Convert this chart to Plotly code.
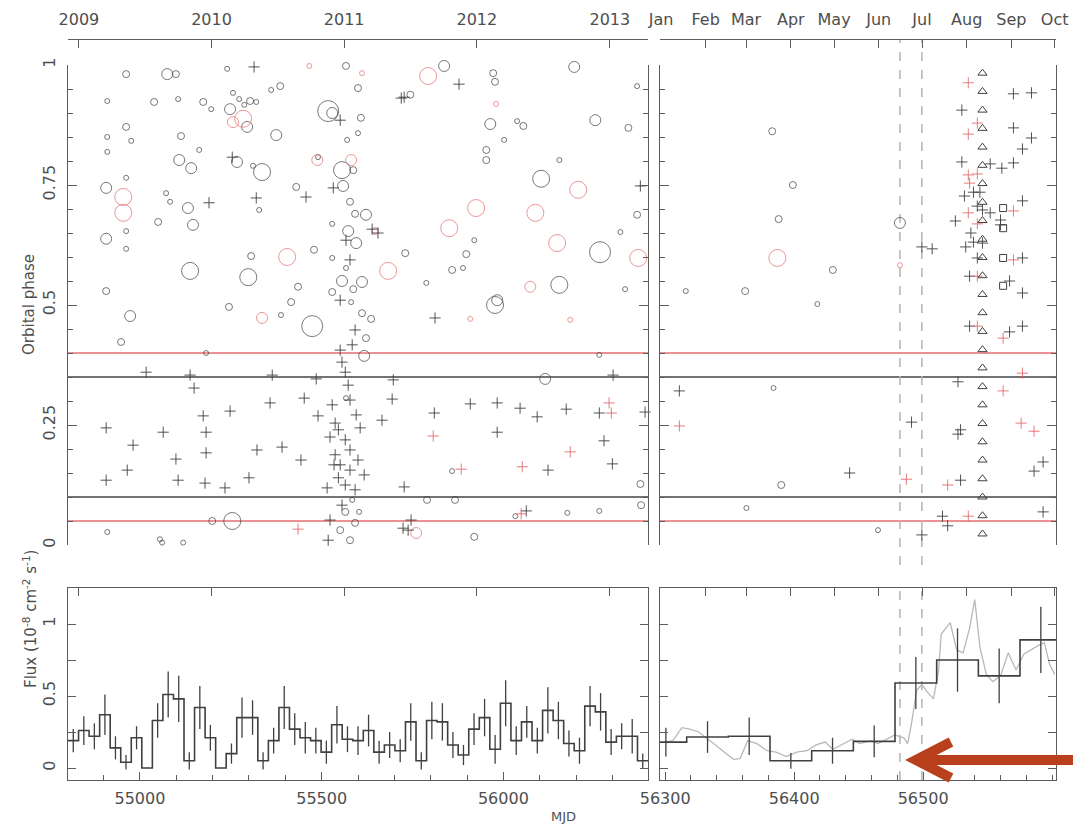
import pandas as pd
import plotly.graph_objects as go

# ---------------------------------------------------------------------------
# 2009-2012 monitoring (left panels)
# open circles: MJD, orbital phase, strength class (1 = faint ... 5 = strongest)
arch_circ_mjd = [54962, 55075, 55099, 55240, 55567, 54910, 55039, 55105, 55174, 55196,
                 55256, 55273, 55287, 55303, 55320, 55361, 55386, 55248, 55295, 55375,
                 55518, 55529, 54962, 54910, 54976, 55113, 54910, 55163, 55108, 55141,
                 55267, 55311, 55336, 55490, 55570, 55556, 55587, 54962, 54907, 55072,
                 55083, 55132, 55328, 55430, 55559, 55578, 55592, 55050, 55146, 54962,
                 54907, 54962, 55529, 55573, 55595, 55306, 55479, 55529, 55567, 55138,
                 55298, 54907, 55435, 55556, 55529, 55587, 55416, 55581, 55245, 54973,
                 55388, 55474, 55600, 55608, 55600, 55622, 55611, 55611, 55636, 55622,
                 55617, 55837, 55972, 55977, 55964, 56038, 56055, 55953, 55953, 55898,
                 55859, 55889, 55730, 55788, 55977, 55983, 56104, 56154, 56195, 56266,
                 56253, 56368, 56154, 56322, 56368, 56335, 56344, 55744, 55920, 56002,
                 56377, 56115, 56264, 55867, 55920, 55859, 54910, 55061, 55119, 55254,
                 55199, 55055, 54948, 55182, 55551, 55578, 55592, 55603, 55565, 55584,
                 56033, 56176, 56264, 56379, 55790, 55567]
arch_circ_phase = [0.981, 0.981, 0.981, 0.992, 0.998, 0.925, 0.923, 0.929, 0.923, 0.908,
                   0.942, 0.929, 0.917, 0.925, 0.923, 0.948, 0.956, 0.908, 0.871, 0.854,
                   0.904, 0.900, 0.871, 0.850, 0.842, 0.852, 0.819, 0.823, 0.802, 0.785,
                   0.798, 0.790, 0.777, 0.808, 0.844, 0.781, 0.781, 0.765, 0.744, 0.733,
                   0.715, 0.702, 0.698, 0.746, 0.748, 0.715, 0.690, 0.673, 0.667, 0.654,
                   0.638, 0.617, 0.669, 0.654, 0.629, 0.602, 0.615, 0.598, 0.577, 0.571,
                   0.558, 0.529, 0.538, 0.550, 0.527, 0.533, 0.506, 0.506, 0.496, 0.477,
                   0.479, 0.456, 0.952, 0.890, 0.858, 0.688, 0.548, 0.483, 0.471, 0.431,
                   0.394, 0.998, 0.983, 0.965, 0.877, 0.883, 0.873, 0.823, 0.802, 0.606,
                   0.573, 0.577, 0.608, 0.546, 0.500, 0.510, 0.763, 0.542, 0.996, 0.610,
                   0.885, 0.956, 0.802, 0.652, 0.688, 0.533, 0.869, 0.938, 0.635, 0.844,
                   0.127, 0.346, 0.396, 0.094, 0.017, 0.154, 0.027, 0.005, 0.005, 0.050,
                   0.050, 0.012, 0.423, 0.400, 0.031, 0.010, 0.046, 0.069, 0.069, 0.094,
                   0.060, 0.067, 0.071, 0.083, 0.094, 0.306]
arch_circ_level = [2, 3, 2, 1, 2, 1, 2, 1, 2, 1,
                   1, 1, 1, 2, 1, 1, 2, 3, 3, 3,
                   5, 3, 2, 1, 1, 2, 1, 1, 3, 3,
                   3, 1, 4, 1, 1, 4, 2, 1, 3, 1,
                   1, 3, 1, 2, 3, 2, 2, 2, 3, 1,
                   3, 1, 1, 3, 3, 2, 2, 1, 1, 4,
                   4, 2, 2, 3, 2, 2, 2, 1, 2, 3,
                   1, 5, 2, 2, 1, 3, 3, 2, 2, 2,
                   3, 3, 2, 2, 3, 1, 2, 2, 2, 2,
                   2, 1, 2, 1, 4, 3, 4, 4, 3, 5,
                   3, 1, 1, 1, 2, 1, 2, 2, 1, 1,
                   2, 3, 1, 2, 2, 1, 1, 1, 1, 4,
                   2, 1, 2, 1, 2, 2, 2, 1, 2, 1,
                   1, 1, 1, 2, 2, 1]

arch_circ_red_mjd = [54954, 54954, 55256, 55284, 55488, 55581, 55405, 55336, 55466, 55611,
                     55793, 55980, 55925, 55851, 55683, 56074, 56148, 56206, 56088, 56371,
                     55909, 56184, 55647, 55760]
arch_circ_red_phase = [0.725, 0.692, 0.881, 0.888, 0.802, 0.802, 0.600, 0.473, 0.998, 0.983,
                       0.977, 0.919, 0.702, 0.660, 0.571, 0.538, 0.629, 0.740, 0.692, 0.598,
                       0.471, 0.469, 0.654, 0.025]
arch_circ_red_level = [4, 4, 3, 4, 3, 3, 4, 3, 1, 1,
                       4, 1, 4, 4, 4, 3, 4, 4, 4, 4,
                       1, 1, 2, 3]

# crosses (non-detections)
arch_cross_mjd = [55314, 55551, 55254, 55190, 55320, 55457, 55532, 55727, 55719, 55878,
                  56377, 55639, 55655, 55812, 55567, 55578, 55551, 55592, 55584, 54907,
                  54907, 54965, 54981, 55017, 55064, 55099, 55105, 55138, 55149, 55174,
                  55182, 55182, 55179, 55234, 55248, 55300, 55322, 55358, 55364, 55391,
                  55443, 55452, 55485, 55490, 55523, 55529, 55537, 55534, 55551, 55556,
                  55565, 55573, 55546, 55565, 55578, 55537, 55551, 55578, 55546, 55565,
                  55592, 55578, 55595, 55606, 55515, 55523, 55518, 55600, 55556, 55617,
                  55694, 55697, 55724, 55738, 55746, 55727, 55666, 55810, 55909, 55983,
                  55983, 56046, 56063, 56123, 56093, 56173, 56277, 56302, 56300, 56264,
                  56390]
arch_cross_phase = [0.996, 0.885, 0.808, 0.713, 0.723, 0.725, 0.744, 0.933, 0.931, 0.960,
                    0.748, 0.658, 0.650, 0.473, 0.635, 0.594, 0.510, 0.448, 0.417, 0.244,
                    0.135, 0.156, 0.208, 0.360, 0.235, 0.179, 0.135, 0.354, 0.327, 0.269,
                    0.235, 0.192, 0.129, 0.119, 0.279, 0.140, 0.198, 0.296, 0.354, 0.204,
                    0.177, 0.306, 0.346, 0.269, 0.225, 0.292, 0.254, 0.167, 0.406, 0.381,
                    0.360, 0.333, 0.240, 0.219, 0.198, 0.188, 0.167, 0.156, 0.140, 0.125,
                    0.115, 0.302, 0.271, 0.244, 0.119, 0.052, 0.010, 0.177, 0.083, 0.146,
                    0.304, 0.344, 0.035, 0.031, 0.052, 0.121, 0.260, 0.275, 0.294, 0.235,
                    0.296, 0.285, 0.071, 0.156, 0.267, 0.283, 0.217, 0.354, 0.169, 0.275,
                    0.277]
arch_cross_red_mjd = [55435, 55807, 55884, 56052, 56049, 56184, 56297, 56291]
arch_cross_red_phase = [0.033, 0.227, 0.158, 0.163, 0.065, 0.194, 0.275, 0.296]

# binned light curve 2009-2012 (1e-8 ph cm^-2 s^-1)
arch_bin_start = 54802.0
arch_bin_width = 29.02
arch_flux = [0.19, 0.26, 0.22, 0.37, 0.14, 0.04, 0.21, 0.00, 0.33, 0.51,
             0.48, 0.05, 0.42, 0.21, 0.00, 0.10, 0.35, 0.35, 0.05, 0.19,
             0.42, 0.27, 0.21, 0.19, 0.11, 0.30, 0.20, 0.19, 0.26, 0.11,
             0.16, 0.12, 0.32, 0.05, 0.33, 0.32, 0.16, 0.09, 0.27, 0.35,
             0.13, 0.45, 0.19, 0.32, 0.19, 0.40, 0.33, 0.17, 0.12, 0.43,
             0.39, 0.18, 0.22, 0.22, 0.05]
arch_flux_err = [0.08, 0.10, 0.09, 0.14, 0.08, 0.05, 0.08, 0.00, 0.12, 0.16,
                 0.16, 0.06, 0.15, 0.09, 0.00, 0.07, 0.14, 0.12, 0.06, 0.09,
                 0.15, 0.11, 0.11, 0.09, 0.08, 0.13, 0.09, 0.10, 0.11, 0.08,
                 0.09, 0.08, 0.13, 0.06, 0.13, 0.13, 0.09, 0.07, 0.11, 0.13,
                 0.10, 0.16, 0.10, 0.11, 0.09, 0.16, 0.13, 0.09, 0.09, 0.14,
                 0.13, 0.09, 0.09, 0.12, 0.05]

# ---------------------------------------------------------------------------
# 2013 campaign (right panels)
c13_circ_mjd = [56383, 56399, 56362, 56388, 56430, 56418, 56316, 56384, 56390, 56363, 56465, 56482]
c13_circ_phase = [0.862, 0.750, 0.529, 0.679, 0.573, 0.502, 0.529, 0.327, 0.125, 0.077, 0.031, 0.671]
c13_circ_level = [2, 2, 2, 2, 2, 1, 1, 1, 2, 1, 1, 3]
c13_circ_red_mjd = [56387, 56482]
c13_circ_red_phase = [0.598, 0.583]
c13_circ_red_level = [4, 1]

c13_cross_mjd = [56311, 56443, 56491, 56499, 56527, 56529, 56527, 56529, 56515, 56519,
                 56593, 56586, 56593, 56499, 56570, 56584, 56530, 56570, 56584, 56577,
                 56530, 56552, 56561, 56570, 56532, 56539, 56544, 56577, 56542, 56552,
                 56546, 56525, 56560, 56560, 56537, 56539, 56546, 56507, 56533, 56542,
                 56577, 56536, 56567, 56577, 56536, 56577, 56567]
c13_cross_phase = [0.321, 0.150, 0.256, 0.021, 0.340, 0.240, 0.231, 0.135, 0.060, 0.040,
                   0.173, 0.154, 0.069, 0.621, 0.940, 0.942, 0.906, 0.869, 0.848, 0.825,
                   0.798, 0.794, 0.785, 0.796, 0.727, 0.735, 0.735, 0.717, 0.706, 0.692,
                   0.698, 0.675, 0.677, 0.667, 0.650, 0.631, 0.629, 0.617, 0.621, 0.598,
                   0.598, 0.560, 0.550, 0.525, 0.456, 0.456, 0.444]
c13_cross_red_mjd = [56311, 56487, 56519, 56535, 56562, 56577, 56576, 56586, 56535, 56542,
                     56535, 56535, 56542, 56536, 56570, 56535, 56542, 56570, 56542, 56542,
                     56562]
c13_cross_red_phase = [0.248, 0.137, 0.125, 0.060, 0.321, 0.358, 0.254, 0.237, 0.963, 0.879,
                       0.856, 0.771, 0.773, 0.754, 0.696, 0.692, 0.669, 0.594, 0.560, 0.456,
                       0.431]

c13_tri_mjd = 56546
c13_tri_phase = [0.983, 0.945, 0.906, 0.868, 0.829, 0.791, 0.753, 0.714, 0.676, 0.637,
                 0.599, 0.561, 0.522, 0.484, 0.445, 0.407, 0.369, 0.330, 0.292, 0.253,
                 0.215, 0.177, 0.138, 0.100, 0.061, 0.023]
c13_sq_mjd = [56562, 56562, 56562, 56562]
c13_sq_phase = [0.702, 0.660, 0.598, 0.540]

c13_bin_start = 56284.4
c13_bin_width = 32.3
c13_flux = [0.18, 0.215, 0.22, 0.05, 0.12, 0.185, 0.59, 0.75, 0.64, 0.89]
c13_flux_err = [0.10, 0.11, 0.13, 0.055, 0.09, 0.11, 0.18, 0.22, 0.19, 0.23]

c13_weekly_mjd = [56300, 56306, 56313, 56319, 56326, 56332, 56339, 56346, 56353, 56358,
                  56364, 56371, 56379, 56386, 56394, 56402, 56410, 56417, 56424, 56430,
                  56438, 56445, 56451, 56459, 56465, 56472, 56478, 56485, 56488, 56491,
                  56495, 56499, 56503, 56508, 56512, 56514, 56521, 56526, 56531, 56536,
                  56540, 56544, 56549, 56554, 56560, 56566, 56572, 56578, 56583, 56589,
                  56594, 56598, 56602]
c13_weekly_flux = [0.18, 0.19, 0.28, 0.27, 0.25, 0.21, 0.16, 0.11, 0.06, 0.065,
                   0.19, 0.17, 0.12, 0.11, 0.08, 0.11, 0.12, 0.16, 0.18, 0.13,
                   0.17, 0.20, 0.17, 0.19, 0.17, 0.20, 0.23, 0.21, 0.17, 0.31,
                   0.54, 0.58, 0.53, 0.48, 0.68, 0.93, 1.01, 0.82, 0.80, 0.97,
                   1.17, 0.84, 0.65, 0.60, 0.64, 0.80, 0.68, 0.79, 0.82, 0.85,
                   0.87, 0.72, 0.65]

# reference phase bands and flare window
band_phase = [0.40, 0.35, 0.10, 0.05]
band_kind = ["red", "black", "black", "red"]
flare_mjd = [56482, 56499]

year_ticks = ["2009-01-01", "2010-01-01", "2011-01-01", "2012-01-01", "2013-01-01"]
year_text = ["2009", "2010", "2011", "2012", "2013"]
month_ticks = ["2013-01-01", "2013-02-01", "2013-03-01", "2013-04-01", "2013-05-01",
               "2013-06-01", "2013-07-01", "2013-08-01", "2013-09-01", "2013-10-01"]
month_text = ["Jan", "Feb", "Mar", "Apr", "May", "Jun", "Jul", "Aug", "Sep", "Oct"]
mjd_ticks_left = [55000, 55500, 56000]
mjd_ticks_right = [56300, 56400, 56500]

# ---------------------------------------------------------------------------
W, H = 1073, 836
INK = "#404040"
RED = "#e46c6c"
AXC = "#5c5c5c"
TXT = "#4e4e4e"
GREY = "#b8b8b8"
FONT = "DejaVu Sans"
COL = {"red": "#e46c6c", "black": "#444444"}
CIRCLE_SIZE = {1: 5, 2: 7, 3: 11, 4: 17, 5: 21}


def fx(p):
    return p / W


def fy(p):
    return 1 - p / H


MJD0 = pd.Timestamp("1858-11-17")


def mjd_date(m):
    return (MJD0 + pd.Timedelta(days=m)).strftime("%Y-%m-%d %H:%M")


L_DOM = [fx(68), fx(648)]
R_DOM = [fx(660), fx(1056)]
T_DOM = [fy(545), fy(65)]
B_DOM = [fy(780), fy(588)]
L_RANGE = [54802, 56398]
R_RANGE = [56296, 56603]
MONTH_RANGE = ["2012-12-31 07:24", "2013-10-01 21:40"]

fig = go.Figure()


def circles(x, y, lvl, color, xa, ya):
    fig.add_trace(go.Scatter(
        x=x, y=y, mode="markers", xaxis=xa, yaxis=ya, cliponaxis=False,
        marker=dict(symbol="circle-open", size=[CIRCLE_SIZE[v] for v in lvl],
                    color=color, line=dict(width=1, color=color)),
        hoverinfo="skip", showlegend=False))


def symbols(x, y, color, xa, ya, symbol, size, width=1):
    fig.add_trace(go.Scatter(
        x=x, y=y, mode="markers", xaxis=xa, yaxis=ya, cliponaxis=False,
        marker=dict(symbol=symbol, size=size, color=color, line=dict(width=width, color=color)),
        hoverinfo="skip", showlegend=False))


def light_curve(start, width, flux, err, xa, ya):
    edges = [start + i * width for i in range(len(flux) + 1)]
    centres = [start + (i + 0.5) * width for i in range(len(flux))]
    fig.add_trace(go.Scatter(
        x=edges, y=list(flux) + [flux[-1]], mode="lines", line_shape="hv",
        line=dict(color=INK, width=1.6), xaxis=xa, yaxis=ya,
        hoverinfo="skip", showlegend=False))
    fig.add_trace(go.Scatter(
        x=centres, y=flux, mode="markers", marker=dict(size=1, color=INK),
        error_y=dict(type="data", array=err, visible=True, width=0, thickness=1.3, color=INK),
        xaxis=xa, yaxis=ya, hoverinfo="skip", showlegend=False))


# phase panels
circles(arch_circ_mjd, arch_circ_phase, arch_circ_level, INK, "x", "y")
circles(arch_circ_red_mjd, arch_circ_red_phase, arch_circ_red_level, RED, "x", "y")
symbols(arch_cross_mjd, arch_cross_phase, INK, "x", "y", "cross-thin-open", 8, 0.9)
symbols(arch_cross_red_mjd, arch_cross_red_phase, RED, "x", "y", "cross-thin-open", 8, 0.9)

circles(c13_circ_mjd, c13_circ_phase, c13_circ_level, INK, "x2", "y2")
circles(c13_circ_red_mjd, c13_circ_red_phase, c13_circ_red_level, RED, "x2", "y2")
symbols(c13_cross_mjd, c13_cross_phase, INK, "x2", "y2", "cross-thin-open", 8, 0.9)
symbols(c13_cross_red_mjd, c13_cross_red_phase, RED, "x2", "y2", "cross-thin-open", 8, 0.9)
symbols([c13_tri_mjd] * len(c13_tri_phase), c13_tri_phase, INK, "x2", "y2", "triangle-up-open", 8)
symbols(c13_sq_mjd, c13_sq_phase, INK, "x2", "y2", "square-open", 7)

# flux panels
light_curve(arch_bin_start, arch_bin_width, arch_flux, arch_flux_err, "x3", "y3")
fig.add_trace(go.Scatter(x=c13_weekly_mjd, y=c13_weekly_flux, mode="lines",
                         line=dict(color=GREY, width=1.3), xaxis="x4", yaxis="y4",
                         hoverinfo="skip", showlegend=False))
light_curve(c13_bin_start, c13_bin_width, c13_flux, c13_flux_err, "x4", "y4")

# calendar axes need a (hidden) trace to be drawn
for xa, ya, xv in [("x5", "y", "2010-06-01"), ("x6", "y2", "2013-05-01"),
                   ("x7", "y3", "2010-06-01"), ("x8", "y4", "2013-05-01")]:
    fig.add_trace(go.Scatter(x=[xv], y=[0.5], xaxis=xa, yaxis=ya, mode="markers",
                             marker=dict(opacity=0), hoverinfo="skip", showlegend=False))

tickfont = dict(family=FONT, size=16, color=TXT)
base = dict(showline=True, linecolor=AXC, linewidth=1.2, ticks="inside", tickcolor=AXC,
            tickwidth=1.1, showgrid=False, zeroline=False, tickfont=tickfont,
            automargin=False)

phase_y = dict(base, range=[0, 1], domain=T_DOM, tickmode="linear", tick0=0, dtick=0.25,
               ticklen=9, mirror="ticks", tickangle=-90, ticklabelstandoff=6,
               minor=dict(tick0=0, dtick=0.05, ticklen=5, ticks="inside", tickcolor=AXC))
flux_y = dict(base, range=[-0.0833, 1.25], domain=B_DOM, tickmode="linear", tick0=0, dtick=0.5,
              ticklen=8, mirror="ticks", tickangle=-90, ticklabelstandoff=6,
              minor=dict(tick0=0, dtick=0.25, ticklen=8, ticks="inside", tickcolor=AXC))

fig.update_layout(
    width=W, height=H, margin=dict(l=0, r=0, t=0, b=0, autoexpand=False),
    paper_bgcolor="white", plot_bgcolor="white", showlegend=False,
    xaxis=dict(domain=L_DOM, range=L_RANGE, anchor="y", visible=False, automargin=False),
    xaxis2=dict(domain=R_DOM, range=R_RANGE, anchor="y2", visible=False, automargin=False),
    yaxis=dict(phase_y, anchor="x"),
    yaxis2=dict(phase_y, anchor="x2", showticklabels=False),
    xaxis3=dict(base, domain=L_DOM, range=L_RANGE, anchor="y3", tickmode="array",
                tickvals=mjd_ticks_left, tickformat="d", ticklen=8, ticklabelstandoff=4,
                minor=dict(tick0=0, dtick=100, ticklen=5, ticks="inside", tickcolor=AXC)),
    yaxis3=dict(flux_y, anchor="x3"),
    xaxis4=dict(base, domain=R_DOM, range=R_RANGE, anchor="y4", tickmode="array",
                tickvals=mjd_ticks_right, tickformat="d", ticklen=8, ticklabelstandoff=4,
                minor=dict(tick0=0, dtick=20, ticklen=5, ticks="inside", tickcolor=AXC)),
    yaxis4=dict(flux_y, anchor="x4", showticklabels=False),
    xaxis5=dict(base, overlaying="x", side="top", anchor="free", position=fy(39), type="date",
                range=[mjd_date(L_RANGE[0]), mjd_date(L_RANGE[1])], tickmode="array",
                tickvals=year_ticks, ticktext=year_text, ticklen=8, ticklabelstandoff=8),
    xaxis6=dict(base, overlaying="x2", side="top", anchor="free", position=fy(39), type="date",
                range=MONTH_RANGE, tickmode="array", tickvals=month_ticks,
                ticktext=month_text, ticklen=8, ticklabelstandoff=8),
    xaxis7=dict(base, overlaying="x3", side="top", anchor="y3", type="date",
                range=[mjd_date(L_RANGE[0]), mjd_date(L_RANGE[1])], tickmode="array",
                tickvals=year_ticks, showticklabels=False, ticklen=8),
    xaxis8=dict(base, overlaying="x4", side="top", anchor="y4", type="date",
                range=MONTH_RANGE, tickmode="array", tickvals=month_ticks,
                showticklabels=False, ticklen=8),
)

# phase reference bands in both upper panels
for val, kind in zip(band_phase, band_kind):
    for xr, yr in [("x domain", "y"), ("x2 domain", "y2")]:
        fig.add_shape(type="line", xref=xr, yref=yr, x0=0, x1=1, y0=val, y1=val,
                      line=dict(color=COL[kind], width=1.6), layer="below")

# flare window markers
for m in flare_mjd:
    fig.add_shape(type="line", xref="x2", yref="paper", x0=m, x1=m, y0=fy(565), y1=fy(40),
                  line=dict(color=GREY, width=1.6, dash="dash"), layer="below")
    fig.add_shape(type="line", xref="x4", yref="y4 domain", x0=m, x1=m, y0=0, y1=1,
                  line=dict(color=GREY, width=1.6, dash="dash"), layer="below")

# arrow pointing at the flux rise
arrow_path = (f"M {fx(1073)},{fy(760)} L {fx(925)},{fy(760)} "
              f"M {fx(951)},{fy(742)} L {fx(916)},{fy(760)} L {fx(951)},{fy(778)}")
fig.add_shape(type="path", xref="paper", yref="paper", path=arrow_path,
              line=dict(color="#b9401c", width=10))

title_font = dict(family=FONT, size=15, color=TXT)
fig.add_annotation(x=fx(18), y=fy(305), xref="paper", yref="paper", text="Orbital phase",
                   textangle=-90, showarrow=False, font=title_font)
fig.add_annotation(x=fx(18), y=fy(690), xref="paper", yref="paper",
                   text="Flux (10<sup>-8</sup> cm<sup>-2</sup> s<sup>-1</sup>)",
                   textangle=-90, showarrow=False, font=title_font)
fig.add_annotation(x=fx(563), y=fy(826), xref="paper", yref="paper", text="MJD",
                   showarrow=False, font=dict(family=FONT, size=13, color=TXT))

fig.write_html("out.html")
